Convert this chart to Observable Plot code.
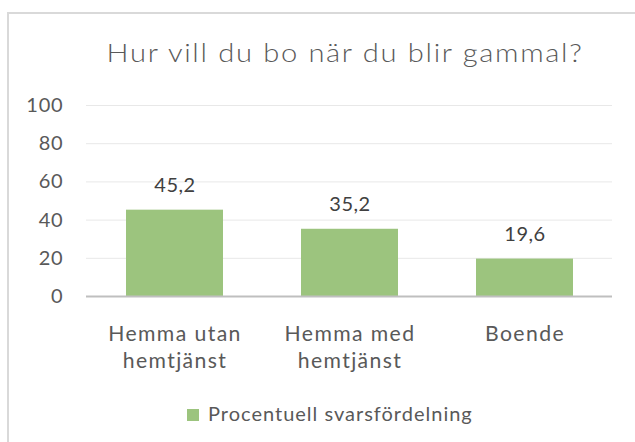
<!DOCTYPE html>
<html>
<head>
<meta charset="utf-8">
<script src="https://cdn.jsdelivr.net/npm/d3@7"></script>
<script src="https://cdn.jsdelivr.net/npm/@observablehq/plot@0.6"></script>
<style>
  html, body { margin: 0; padding: 0; background: #ffffff; }
  #frame { position: relative; width: 635px; height: 442px; overflow: hidden; font-family: Lato, sans-serif; color: #595959; }
  #border { position: absolute; left: 7px; top: 12px; width: 700px; height: 500px; border-left: 2px solid #d9d9d9; border-top: 2px solid #d9d9d9; }
  #title { position: absolute; left: 345px; top: 39px; transform: translateX(-50%) scaleX(1.12); white-space: nowrap; font-size: 26px; line-height: 26px; font-weight: 300; letter-spacing: 1.5px; color: #595959; }
  #chart { position: absolute; left: 0; top: 90px; }
  #legend { position: absolute; left: 187px; top: 403px; white-space: nowrap; font-size: 20px; line-height: 20px; letter-spacing: 1px; color: #595959; }
  #legend .sw { display: inline-block; width: 12px; height: 12px; margin-right: 9px; vertical-align: 0px; }
  #chart svg g[aria-label="x-axis tick label"] text { letter-spacing: 1.4px; }
  #chart svg g[aria-label="y-axis tick label"] text { letter-spacing: 0.8px; }
  #chart svg g[aria-label="text"] text { letter-spacing: 0.5px; }
</style>
</head>
<body>
<div id="frame">
  <div id="border"></div>
  <div id="title"></div>
  <div id="chart"></div>
  <div id="legend"></div>
</div>
<script>
const titleText = "Hur vill du bo när du blir gammal?";
const categories = ["Hemma utan\nhemtjänst", "Hemma med\nhemtjänst", "Boende"];
const values = [45.2, 35.2, 19.6];
const yTicks = [0, 20, 40, 60, 80, 100];
const seriesName = "Procentuell svarsfördelning";
const barColor = "#9cc47e";

const data = categories.map((c, i) => ({category: c, value: values[i]}));
const fmt = v => v.toFixed(1).replace(".", ",");

document.getElementById("title").textContent = titleText;

const chart = Plot.plot({
  width: 635,
  height: 286,
  marginLeft: 86,
  marginRight: 23,
  marginTop: 15,
  marginBottom: 80,
  style: {fontFamily: "Lato, sans-serif", fontSize: "20px", color: "#595959", background: "transparent"},
  x: {domain: categories, paddingInner: 0.447, paddingOuter: 0.2235, label: null},
  y: {domain: [0, 100], label: null},
  marks: [
    Plot.gridY(yTicks, {stroke: "#e8e8e8", strokeOpacity: 1, strokeWidth: 1}),
    Plot.axisY(yTicks, {tickSize: 0, tickPadding: 23, label: null, fontSize: 20}),
    Plot.barY(data, {x: "category", y: "value", fill: barColor}),
    Plot.ruleY([0], {stroke: "#bfbfbf", strokeWidth: 2}),
    Plot.text(data, {x: "category", y: "value", text: d => fmt(d.value), lineAnchor: "bottom", dy: -18, fill: "#404040", fontSize: 20}),
    Plot.axisX({tickSize: 0, tickPadding: 25.6, label: null, lineHeight: 1.27, fontSize: 21.2})
  ]
});
document.getElementById("chart").appendChild(chart);

const legend = document.getElementById("legend");
const sw = document.createElement("span");
sw.className = "sw";
sw.style.background = barColor;
legend.appendChild(sw);
legend.appendChild(document.createTextNode(seriesName));
</script>
</body>
</html>
